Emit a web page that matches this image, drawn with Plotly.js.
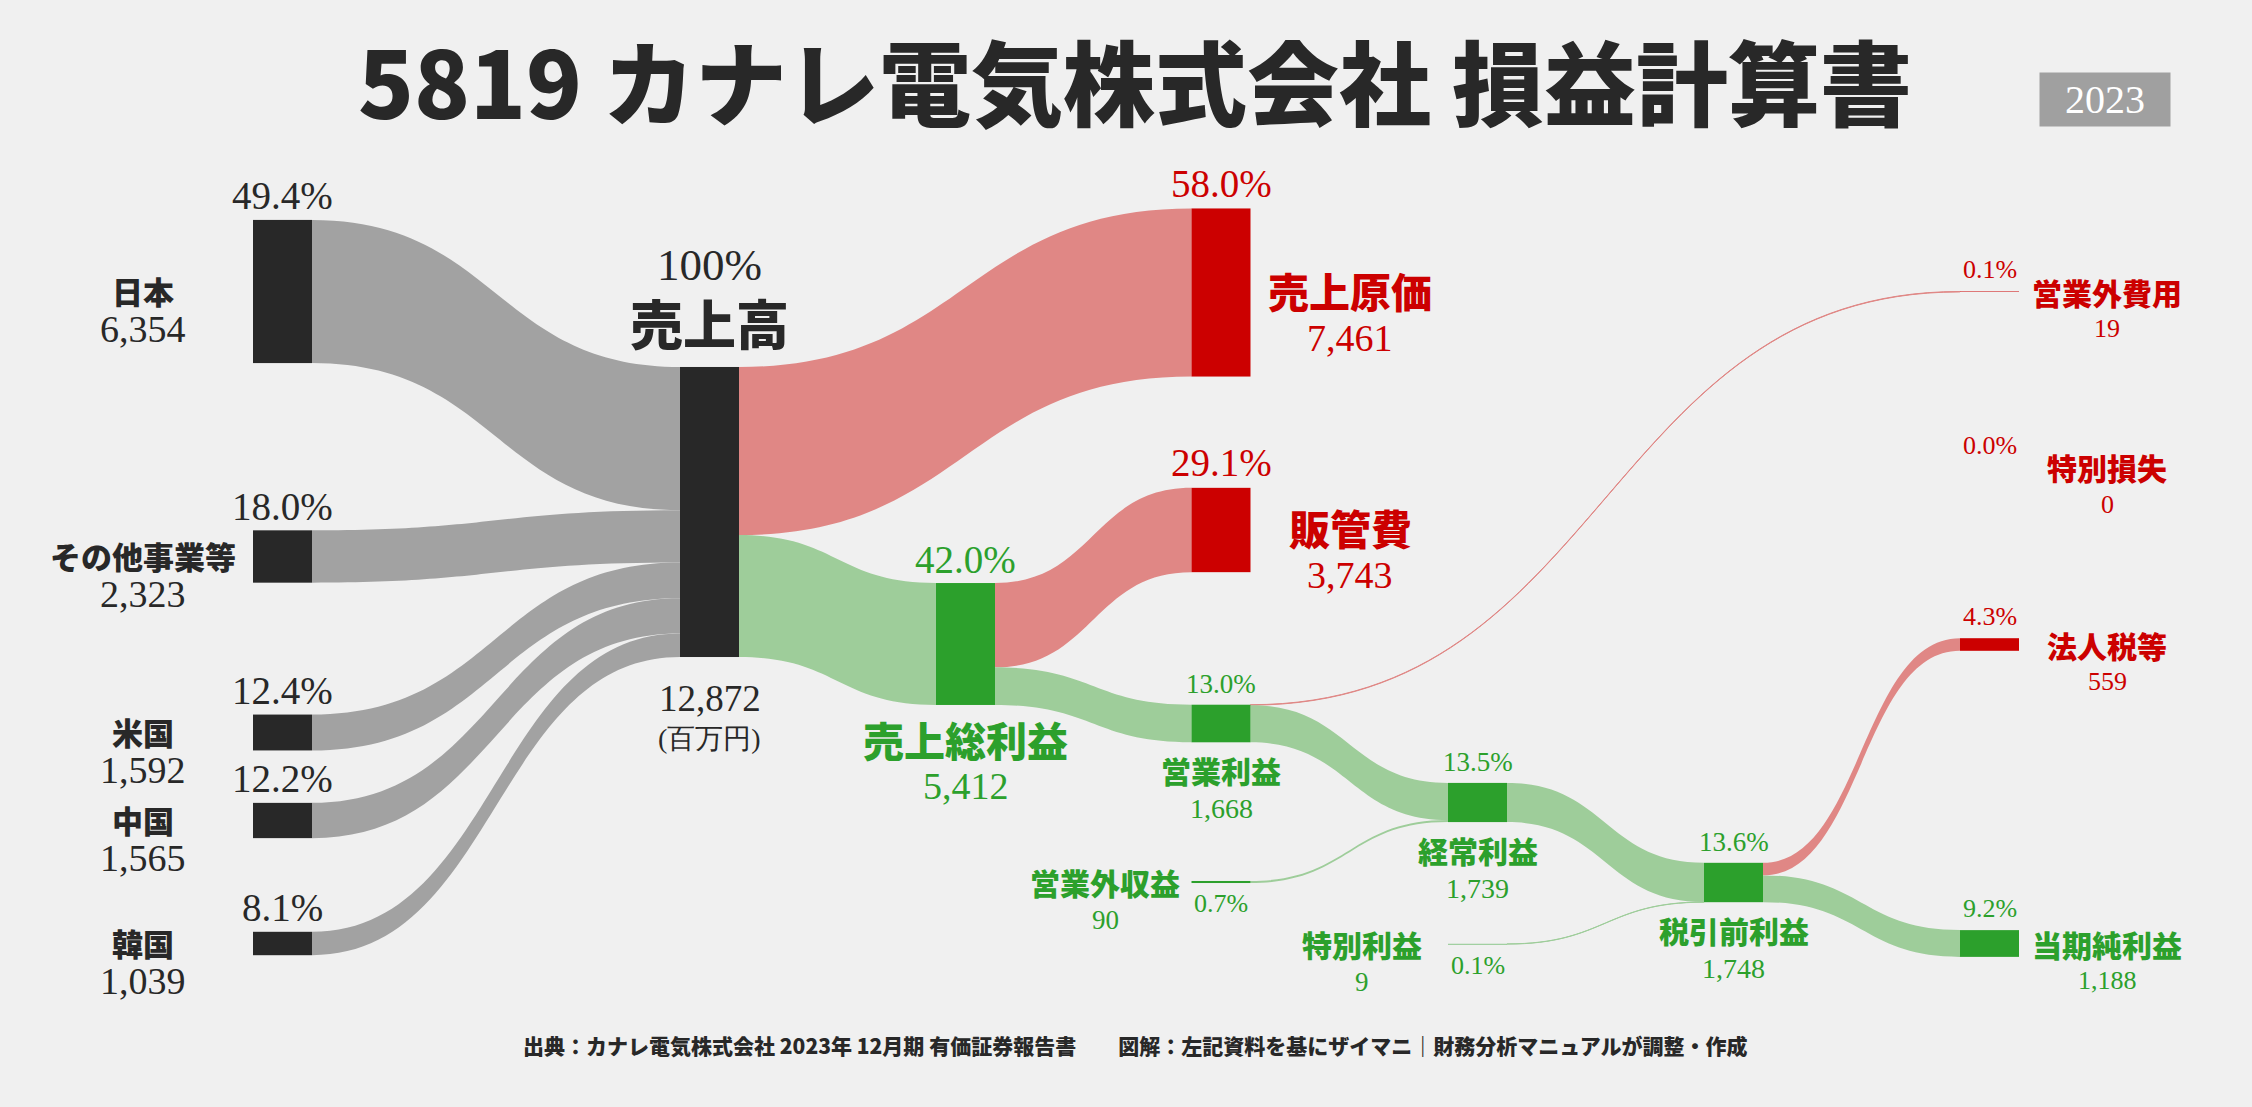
<!DOCTYPE html>
<html>
<head>
<meta charset="utf-8">
<script src="https://cdn.plot.ly/plotly-3.0.1.min.js"></script>
<style>
html,body{margin:0;padding:0;background:#f0f0f0;}
#chart{width:2252px;height:1107px;}
</style>
</head>
<body>
<div id="chart"></div>
<script>
// ---------------- DATA ----------------
const titleText = '5819 カナレ電気株式会社 損益計算書';
const yearText = '2023';
const unitText = '(百万円)';
const sourceText = '出典：カナレ電気株式会社 2023年 12月期 有価証券報告書　　図解：左記資料を基にザイマニ｜財務分析マニュアルが調整・作成';

const nodeNames  = ['日本','その他事業等','米国','中国','韓国','売上高','売上原価','売上総利益','販管費','営業利益','営業外収益','営業外費用','経常利益','特別利益','税引前利益','法人税等','当期純利益','特別損失'];
const nodeValues = [6354, 2323, 1592, 1565, 1039, 12872, 7461, 5412, 3743, 1668, 90, 19, 1739, 9, 1748, 559, 1188, 0];
const nodeKinds  = ['src','src','src','src','src','total','cost','profit','cost','profit','profit','cost','profit','profit','profit','cost','profit','cost'];

const linkSources = [0, 1, 2, 3, 4, 5, 5, 7, 7, 9, 9, 10, 12, 13, 14, 14];
const linkTargets = [5, 5, 5, 5, 5, 6, 7, 8, 9, 11, 12, 12, 14, 14, 15, 16];
const linkValues  = [6354, 2323, 1592, 1565, 1039, 7461, 5412, 3743, 1668, 19, 1649, 90, 1739, 9, 559, 1188];

// ---------------- LAYOUT (positions / styles) ----------------
const W = 2252, H = 1107;
const domTop = 180, domBot = 980;           // sankey domain, px from top
const Hs = domBot - domTop;
const colX = [282.5, 709.5, 965.5, 1221, 1477.5, 1733.5, 1989.5];       // column centres, px
const nodeCol = [0,0,0,0,0,1,3,2,3,3,3,6,4,4,5,6,6,6];
const nodeYc  = [291.5,556.5,732.5,820.5,943.5,512,292.5,644,530,723.5,882,291.7,802.5,944,882.5,644.5,943.5,467]; // centres, px
const labelStyle = ['left','left','left','left','left','top','rightBig','bottomBig','rightBig','bottom','leftThin','right','bottom','leftThin','bottom','right','right','right'];
const thickness = 59;
const ky = 0.02253; // px per unit

const COLORS = {src:'#282828', total:'#282828', cost:'#cc0000', profit:'#2ca02c'};
const LINKCOL = {src:'#a2a2a2', total:'#a2a2a2', cost:'#e08785', profit:'#9ecd9a'};
const SERIF = '"Liberation Serif", "DejaVu Serif", serif';
const SANS = '"Noto Sans CJK JP", "Noto Sans", sans-serif';

// node padding that yields ky for the tallest d3 layer (all pure source nodes)
const hasIn = nodeNames.map((_, i) => linkTargets.includes(i));
const hasLink = nodeNames.map((_, i) => linkTargets.includes(i) || linkSources.includes(i));
let srcSum = 0, srcCount = 0;
nodeNames.forEach((_, i) => { if (hasLink[i] && !hasIn[i]) { srcSum += nodeValues[i]; srcCount++; } });
const pad = (Hs - ky * srcSum) / (srcCount - 1);

const nodeColors = nodeKinds.map(k => COLORS[k]);
const linkColors = linkTargets.map(t => LINKCOL[nodeKinds[t]]);

const trace = {
  type: 'sankey',
  arrangement: 'fixed',
  domain: {x: [0, 1], y: [1 - domBot / H, 1 - domTop / H]},
  node: {
    label: nodeNames.map(() => ''),
    x: nodeCol.map(c => colX[c] / W),
    y: nodeYc.map(y => (y - domTop) / Hs),
    pad: pad,
    thickness: thickness,
    color: nodeColors,
    line: {color: 'rgba(0,0,0,0)', width: 0},
    hoverinfo: 'none'
  },
  link: {
    source: linkSources,
    target: linkTargets,
    value: linkValues,
    color: linkColors,
    line: {color: 'rgba(0,0,0,0)', width: 0},
    hoverinfo: 'none'
  }
};

// ---------------- ANNOTATIONS ----------------
const total = nodeValues[5];
const anns = [];
function ann(text, px, py, family, size, color, bold, extra) {
  const a = {
    text: text, x: px / W, y: 1 - py / H, xref: 'paper', yref: 'paper',
    showarrow: false, xanchor: 'center', yanchor: 'middle',
    font: {family: family, size: size, color: color, weight: bold ? 900 : 400}
  };
  return Object.assign(a, extra || {});
}

nodeNames.forEach((name, i) => {
  const cx = colX[nodeCol[i]], cy = nodeYc[i];
  const h = nodeValues[i] * ky, top = cy - h / 2, bot = cy + h / 2;
  const col = COLORS[nodeKinds[i]];
  const pct = i === 5 ? '100%' : (nodeValues[i] / total * 100).toFixed(1) + '%';
  const val = nodeValues[i].toLocaleString('en-US');
  switch (labelStyle[i]) {
    case 'left':
      anns.push(ann(name, cx - 139.5, cy - 1, SANS, 31, col, true));
      anns.push(ann(val, cx - 139.5, cy + 37, SERIF, 38, col));
      anns.push(ann(pct, cx, top - 24, SERIF, 39, col));
      break;
    case 'top':
      anns.push(ann(pct, cx, top - 102, SERIF, 45, col));
      anns.push(ann(name, cx, top - 45, SANS, 53, col, true));
      anns.push(ann(val, cx, bot + 41, SERIF, 37, col));
      anns.push(ann(unitText, cx, bot + 81, SERIF, 28, col));
      break;
    case 'bottomBig':
      anns.push(ann(pct, cx, top - 24, SERIF, 39, col));
      anns.push(ann(name, cx, bot + 34, SANS, 41, col, true));
      anns.push(ann(val, cx, bot + 81, SERIF, 38, col));
      break;
    case 'bottom':
      anns.push(ann(pct, cx, top - 21, SERIF, 27, col));
      anns.push(ann(name, cx, bot + 28, SANS, 30, col, true));
      anns.push(ann(val, cx, bot + 66, SERIF, 28, col));
      break;
    case 'rightBig':
      anns.push(ann(pct, cx, top - 25, SERIF, 39, col));
      anns.push(ann(name, cx + 129, cy - 3, SANS, 41, col, true));
      anns.push(ann(val, cx + 129, cy + 45, SERIF, 38, col));
      break;
    case 'right':
      anns.push(ann(pct, cx, top - 22, SERIF, 26, col));
      anns.push(ann(name, cx + 117.5, cy, SANS, 30, col, true));
      anns.push(ann(val, cx + 117.5, cy + 37, SERIF, 26, col));
      break;
    case 'leftThin':
      anns.push(ann(name, cx - 116, cy, SANS, 30, col, true));
      anns.push(ann(val, cx - 116, cy + 38, SERIF, 27, col));
      anns.push(ann(pct, cx, cy + 21, SERIF, 26, col));
      break;
  }
});

// year badge
anns.push(ann(yearText, 2105, 99.5, SERIF, 40, '#ffffff', false,
  {bgcolor: '#a0a0a0', width: 130, height: 53, borderpad: 0}));
// source footer
anns.push(ann(sourceText, 1135, 1045, SANS, 21, '#282828', true));

const layout = {
  width: W, height: H,
  margin: {l: 0, r: 0, t: 0, b: 0},
  paper_bgcolor: '#f0f0f0',
  plot_bgcolor: '#f0f0f0',
  title: {
    text: titleText,
    x: 1135 / W, xanchor: 'center', xref: 'container',
    y: 1 - 87 / H, yanchor: 'middle', yref: 'container',
    font: {family: SANS, size: 92, color: '#282828', weight: 900}
  },
  annotations: anns,
  showlegend: false
};

Plotly.newPlot('chart', [trace], layout, {displayModeBar: false, staticPlot: true});
</script>
</body>
</html>
